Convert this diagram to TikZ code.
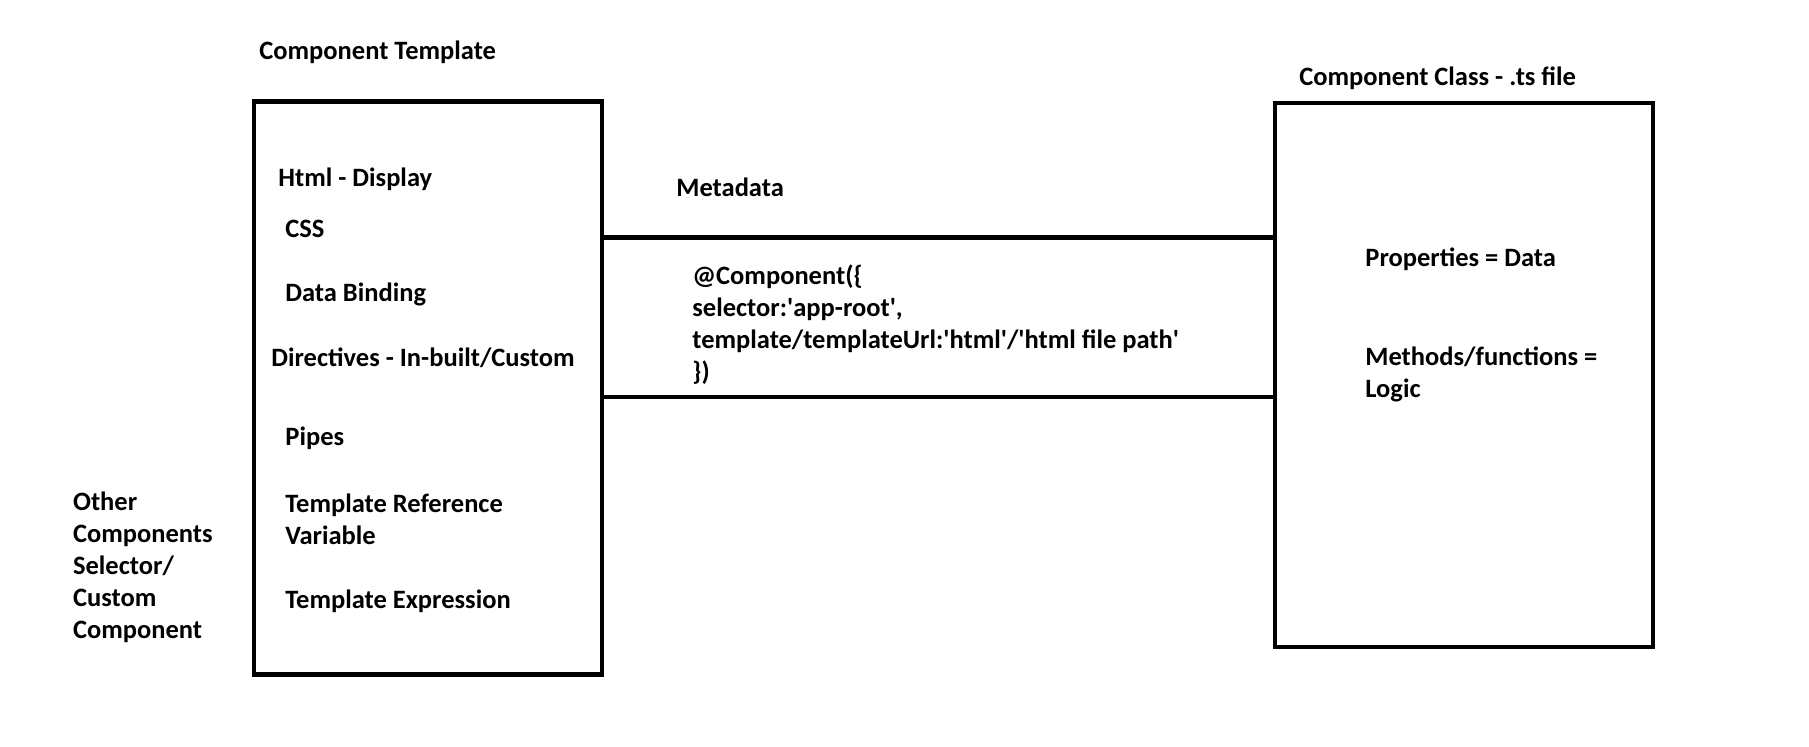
\documentclass[tikz,border=0pt]{standalone}
\usepackage{fontspec}
\setmainfont{Carlito}
\usetikzlibrary{positioning}
\tikzset{
    box/.style={draw, rectangle, line width=2.4pt, inner sep=0pt},
    lbl/.style={anchor=west, inner sep=0pt, align=left,
        font=\fontsize{13.25}{16}\selectfont\bfseries},
}
\newcommand{\sq}{\textquotesingle}

\begin{document}
\begin{tikzpicture}[x=0.5pt, y=-0.5pt]
    \useasboundingbox (0, 0) rectangle (1809, 746);
    \node[box, minimum width=174pt, minimum height=286.75pt] (tmpl) at (428, 388) {};
    \node[box, minimum width=189pt, minimum height=272pt] (cls) at (1464, 375) {};
    \coordinate (mtop) at (0, 237.7);
    \coordinate (mbot) at (0, 397);
    \draw[line width=2.4pt] (tmpl.east |- mtop) -- (cls.west |- mtop);
    \draw[line width=2.4pt] (tmpl.east |- mbot) -- (cls.west |- mbot);

    \node[lbl] (tmplttl) at (259, 52) {Component Template};
    \node[lbl] (clsttl) at (1299, 78.5) {Component Class - .ts file};
    \node[lbl] (meta) at (676, 187) {Metadata};

    \foreach \x/\y/\t [count=\i] in {
        278/178.8/{Html - Display},
        285/228.4/{CSS},
        285/294.2/{Data Binding},
        271/357.6/{Directives - In-built/Custom},
        285/438.4/{Pipes},
        285/519.6/{Template Reference\\Variable},
        285/601/{Template Expression}} {
        \node[lbl] (item\i) at (\x, \y) {\t};
    }

    \node[lbl] (other) at (72.7, 567.6) {Other\\Components\\Selector/\\Custom\\Component};

    \node[lbl] (code) at (692, 325) {@Component(\{\\selector:\sq app-root\sq,\\template/templateUrl:\sq html\sq/\sq html file path\sq\\\})};

    \node[lbl] (props) at (1365, 259.6) {Properties = Data};
    \node[lbl] (meth) at (1365, 374) {Methods/functions =\\Logic};
\end{tikzpicture}
\end{document}
